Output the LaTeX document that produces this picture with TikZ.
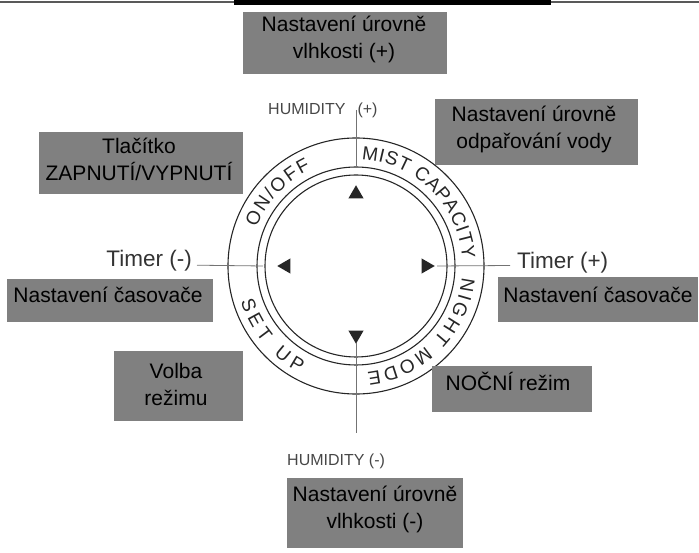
\documentclass[tikz,border=0pt]{standalone}
\usepackage{fontspec}
\setmainfont{Liberation Sans}
\usetikzlibrary{decorations.text,shapes.geometric}

\definecolor{boxgrey}{RGB}{128,128,128}
\newcommand{\ringfont}{\fontsize{19}{19}\selectfont}

\tikzset{
  greybox/.style={fill=boxgrey, inner sep=0pt},
  boxtext/.style={align=center, font=\fontsize{21}{27}\selectfont, inner sep=0pt},
  timer/.style={font=\fontsize{22.5}{27}\selectfont, text=black!80, inner sep=0pt},
  humid/.style={font=\fontsize{16}{18}\selectfont, text=black!72, inner sep=0pt},
  ring/.style={line width=1.1pt, black!85},
  axis/.style={line width=0.8pt, black!55},
  tri/.style={regular polygon, regular polygon sides=3, fill=black!85, inner sep=0pt, minimum size=17.5pt},
  ringtext/.style={decorate, decoration={text along path, text color=black!85, text align=fit to path, text={#1}}}
}

\begin{document}
\begin{tikzpicture}[x=1pt,y=1pt]
    \useasboundingbox (0,0) rectangle (699,552);

    % rule at the top of the page
    \fill[black!65] (0,549) rectangle (699,550.5);
    \fill[black] (234,547) rectangle (551,552);

    \coordinate (c) at (356,286);

    % the dial
    \draw[ring] (c) circle[radius=128];
    \draw[ring] (c) circle[radius=99];
    \draw[ring] (c) circle[radius=91];

    \path[ringtext={|\ringfont|MIST CAPACITY}] ([shift={(87:106.5)}]c) arc[start angle=87, end angle=4, radius=106.5];
    \path[ringtext={|\ringfont|NIGHT MODE}] ([shift={(-6:106.5)}]c) arc[start angle=-6, end angle=-84, radius=106.5];
    \path[ringtext={|\ringfont|ON/OFF}] ([shift={(159:106.5)}]c) arc[start angle=159, end angle=115, radius=106.5];
    \path[ringtext={|\ringfont|SET UP}] ([shift={(197:120.5)}]c) arc[start angle=197, end angle=242, radius=120.5];

    \foreach \a/\d/\r/\n in {90/72/0/up, 270/69/180/down, 180/70/90/left, 0/70/270/right}
        \node[tri, shape border rotate=\r] (\n) at ([shift={(\a:\d)}]c) {};

    % labels round the dial
    \node[humid, anchor=base west] (humplus) at (268,437) {HUMIDITY\hspace{12pt}(+)};
    \node[humid, anchor=base west] (humminus) at (287,87) {HUMIDITY (-)};
    \node[timer, anchor=base east] (tminus) at (192,285.3) {Timer (-)};
    \node[timer, anchor=base west] (tplus) at (517,283.5) {Timer (+)};

    \draw[axis] ([yshift=156]c) -- ([yshift=99]c);
    \draw[axis] ([yshift=-77]c) -- ([yshift=-167]c);
    \draw[axis] ([xshift=5]tminus.base east) ++(0,1.5) -- ([xshift=-93]c);
    \draw[axis] ([xshift=81]c) -- ([xshift=-7,yshift=3]tplus.base west);

    % grey boxes
    \node[greybox, minimum width=204pt, minimum height=62pt] (hplusbox) at (345,509) {};
    \node[greybox, minimum width=204pt, minimum height=62pt] (onoffbox) at (141,389) {};
    \node[greybox, minimum width=203pt, minimum height=66pt] (mistbox) at (536.5,420) {};
    \node[greybox, minimum width=206pt, minimum height=43pt] (tminusbox) at (110,251.5) {};
    \node[greybox, minimum width=200pt, minimum height=45pt] (tplusbox) at (598,252.5) {};
    \node[greybox, minimum width=129pt, minimum height=70pt] (setupbox) at (178.5,166) {};
    \node[greybox, minimum width=160pt, minimum height=46pt] (nightbox) at (512,163) {};
    \node[greybox, minimum width=176pt, minimum height=70pt] (hminusbox) at (375,39) {};

    \node[boxtext] (hplustext) at (344,512.8) {Nastavení úrovně\\vlhkosti (+)};
    \node[boxtext] (onofftext) at (139,393) {Tlačítko\\ZAPNUTÍ/VYPNUTÍ};
    \node[boxtext] (misttext) at (534,423) {Nastavení úrovně\\odpařování vody};
    \node[boxtext, anchor=base] (tminustext) at (108,249) {Nastavení časovače};
    \node[boxtext, anchor=base] (tplustext) at (598,249.3) {Nastavení časovače};
    \node[boxtext] (setuptext) at (176,167.8) {Volba\\režimu};
    \node[boxtext, anchor=base] (nighttext) at (508,161) {NOČNÍ režim};
    \node[boxtext] (hminustext) at (375,42.8) {Nastavení úrovně\\vlhkosti (-)};
\end{tikzpicture}
\end{document}
